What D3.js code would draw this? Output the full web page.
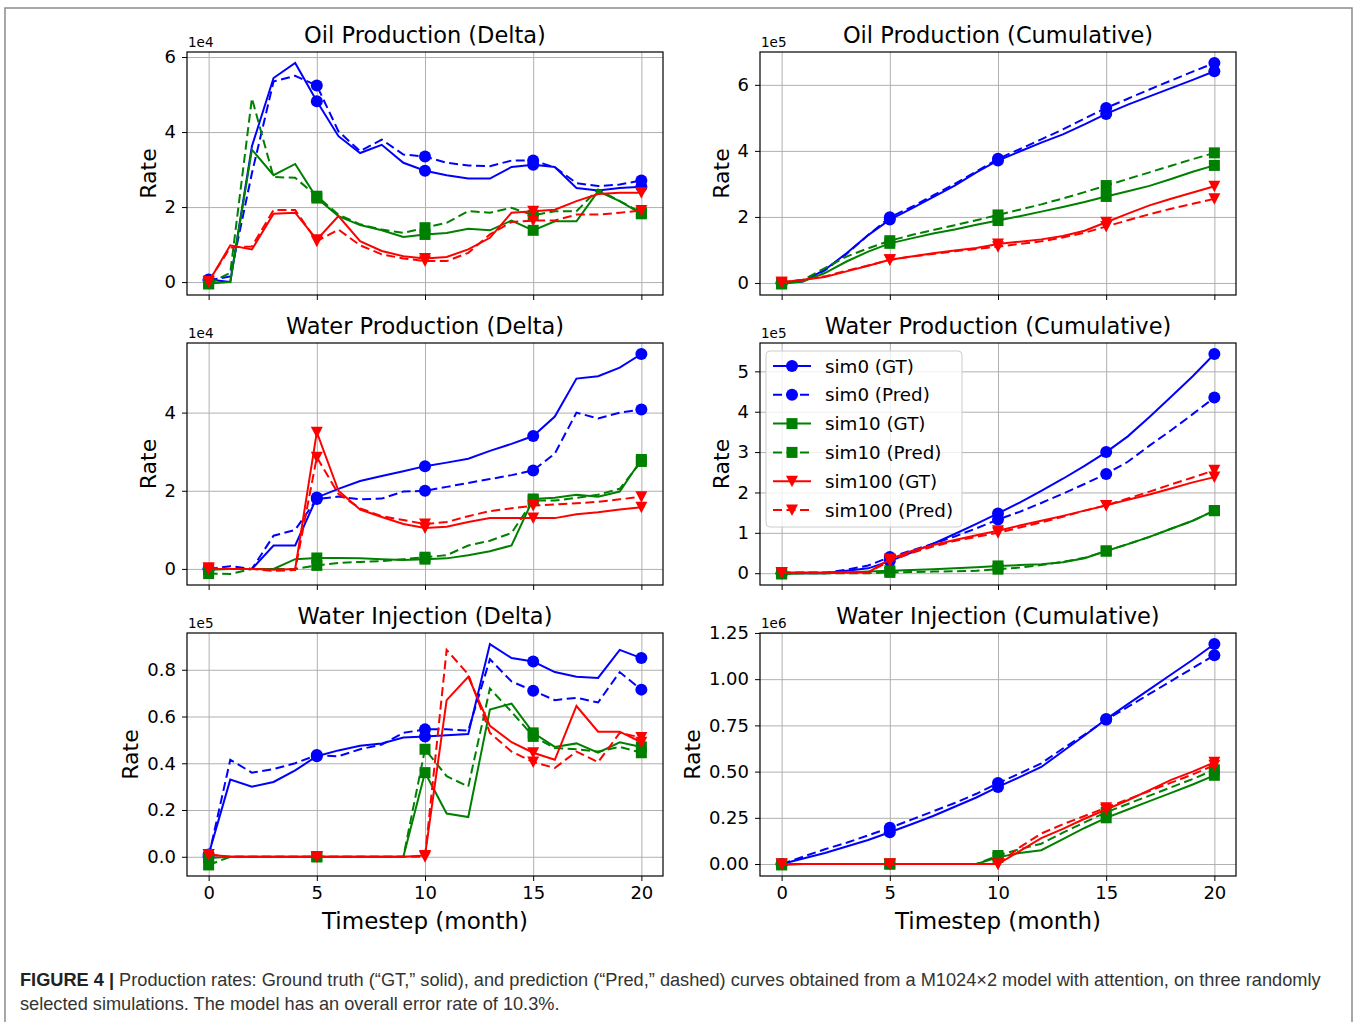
<!DOCTYPE html>
<html>
<head>
<meta charset="utf-8">
<title>Production rates</title>
<script src="https://d3js.org/d3.v7.min.js"></script>
<style>
  body { margin: 0; background: #fff; }
  .grid line { stroke: #b0b0b0; stroke-width: 1; }
  .grid .domain { stroke: none; }
  .axis text { font-family: "DejaVu Sans", sans-serif; font-size: 18px; fill: #000; }
  .axis line { stroke: #000; }
  .axis .domain { stroke: none; }
  .label { font-family: "DejaVu Sans", sans-serif; fill: #000; }
  .caption { font-family: "Liberation Sans", Arial, sans-serif; fill: #333; }
</style>
</head>
<body>
<svg id="fig" width="1359" height="1022"></svg>
<script>
// ---- data (values in units of the panel's offset exponent) ----
const timesteps = [0,1,2,3,4,5,6,7,8,9,10,11,12,13,14,15,16,17,18,19,20];
const markerSteps = [0,5,10,15,20];
const xTickValues = [0,5,10,15,20];
const seriesNames = ['sim0 (GT)','sim0 (Pred)','sim10 (GT)','sim10 (Pred)','sim100 (GT)','sim100 (Pred)'];
const panelTitles = ['Oil Production (Delta)','Oil Production (Cumulative)',
                     'Water Production (Delta)','Water Production (Cumulative)',
                     'Water Injection (Delta)','Water Injection (Cumulative)'];
const panelExponents = ['1e4','1e5','1e4','1e5','1e5','1e6'];
const yTickValues = [[0,2,4,6],[0,2,4,6],[0,2,4],[0,1,2,3,4,5],[0,0.2,0.4,0.6,0.8],[0,0.25,0.5,0.75,1,1.25]];
const yTickFormats = ['d','d','d','d','.1f','.2f'];

// rows: sim0 GT, sim0 Pred, sim10 GT, sim10 Pred, sim100 GT, sim100 Pred
const oilDelta = [
  [0.07,0.0,3.62,5.44,5.84,4.82,3.89,3.44,3.66,3.18,2.97,2.85,2.76,2.76,3.07,3.13,3.07,2.51,2.44,2.51,2.54],
  [0.05,0.15,2.9,5.35,5.5,5.24,4.02,3.49,3.8,3.4,3.35,3.18,3.11,3.09,3.24,3.24,3.06,2.64,2.56,2.6,2.71],
  [-0.04,0.0,3.53,2.85,3.15,2.24,1.76,1.52,1.38,1.2,1.27,1.31,1.42,1.38,1.64,1.38,1.62,1.62,2.42,2.16,1.82],
  [-0.05,0.25,4.9,2.8,2.78,2.29,1.8,1.54,1.4,1.31,1.45,1.58,1.89,1.85,1.98,1.78,1.89,1.89,2.47,2.16,1.85],
  [0.0,0.98,0.87,1.82,1.85,1.13,1.76,1.09,0.83,0.69,0.63,0.67,0.87,1.18,1.85,1.89,1.93,2.16,2.35,2.38,2.38],
  [0.02,0.92,0.95,1.92,1.92,1.09,1.4,0.98,0.74,0.63,0.56,0.56,0.78,1.27,1.6,1.64,1.64,1.8,1.8,1.85,1.91]
];
const oilCum = [
  [0.0,0.05,0.4,0.9,1.45,1.92,2.25,2.6,2.95,3.35,3.71,3.98,4.25,4.5,4.8,5.12,5.4,5.65,5.9,6.15,6.41],
  [0.0,0.05,0.38,0.88,1.45,1.99,2.3,2.65,3.0,3.38,3.76,4.05,4.35,4.65,4.98,5.3,5.58,5.86,6.13,6.4,6.66],
  [-0.03,0.05,0.3,0.65,0.95,1.2,1.35,1.5,1.62,1.76,1.89,2.02,2.16,2.3,2.45,2.62,2.78,2.94,3.15,3.37,3.56],
  [-0.02,0.1,0.45,0.8,1.05,1.28,1.45,1.6,1.75,1.9,2.06,2.22,2.38,2.56,2.75,2.95,3.15,3.35,3.55,3.75,3.94],
  [0.02,0.1,0.18,0.35,0.52,0.7,0.8,0.9,0.98,1.06,1.18,1.25,1.32,1.42,1.58,1.84,2.1,2.35,2.55,2.74,2.93],
  [0.02,0.1,0.2,0.37,0.53,0.7,0.8,0.88,0.96,1.03,1.1,1.18,1.26,1.38,1.52,1.71,1.9,2.08,2.25,2.4,2.55]
];
const waterDelta = [
  [0.0,0.0,0.0,0.6,0.6,1.83,2.05,2.25,2.38,2.5,2.63,2.72,2.82,3.02,3.2,3.4,3.9,4.87,4.93,5.15,5.5],
  [0.0,0.07,0.0,0.85,1.0,1.79,1.85,1.78,1.8,1.98,2.0,2.1,2.2,2.3,2.4,2.52,2.95,4.0,3.85,4.0,4.08],
  [-0.02,0.0,0.0,0.0,0.25,0.28,0.28,0.27,0.25,0.23,0.25,0.27,0.35,0.45,0.6,1.79,1.82,1.9,1.85,1.98,2.8],
  [-0.12,-0.13,0.0,0.0,0.0,0.09,0.15,0.18,0.2,0.25,0.3,0.35,0.6,0.72,0.92,1.75,1.75,1.82,1.9,2.05,2.75],
  [0.0,0.0,0.0,-0.02,0.0,3.5,2.0,1.52,1.33,1.15,1.05,1.08,1.2,1.3,1.3,1.3,1.3,1.4,1.45,1.52,1.58],
  [0.03,0.0,0.0,-0.05,-0.03,2.86,1.92,1.55,1.35,1.25,1.15,1.2,1.35,1.48,1.55,1.62,1.65,1.68,1.72,1.78,1.85]
];
const waterCum = [
  [0.0,0.0,0.0,0.06,0.12,0.3,0.51,0.73,0.97,1.22,1.48,1.75,2.04,2.34,2.66,3.0,3.39,3.87,4.37,4.88,5.43],
  [0.0,0.01,0.01,0.09,0.19,0.4,0.56,0.73,0.91,1.11,1.33,1.52,1.74,1.97,2.21,2.46,2.76,3.16,3.54,3.94,4.35],
  [-0.02,0.0,0.0,0.02,0.04,0.06,0.08,0.1,0.12,0.15,0.18,0.2,0.22,0.27,0.37,0.55,0.72,0.9,1.1,1.3,1.55],
  [0.0,0.0,0.0,0.0,0.0,0.02,0.03,0.04,0.05,0.06,0.1,0.14,0.2,0.28,0.38,0.55,0.72,0.9,1.1,1.3,1.55],
  [0.02,0.02,0.02,0.02,0.02,0.35,0.55,0.7,0.82,0.94,1.05,1.18,1.3,1.42,1.55,1.68,1.82,1.95,2.1,2.25,2.38],
  [0.02,0.02,0.02,0.02,0.02,0.3,0.5,0.66,0.8,0.9,1.0,1.13,1.26,1.4,1.55,1.68,1.85,2.02,2.2,2.37,2.55]
];
const injDelta = [
  [0.01,0.33,0.30,0.32,0.37,0.43,0.455,0.475,0.485,0.51,0.515,0.52,0.525,0.91,0.85,0.835,0.79,0.77,0.765,0.885,0.85],
  [0.0,0.415,0.36,0.375,0.40,0.435,0.43,0.46,0.48,0.53,0.545,0.545,0.54,0.845,0.75,0.71,0.67,0.68,0.66,0.79,0.715],
  [-0.005,0,0,0,0,0,0,0,0,0,0.36,0.185,0.17,0.63,0.655,0.53,0.47,0.485,0.445,0.49,0.47],
  [-0.035,0,0,0,0,0,0,0,0,0,0.46,0.345,0.30,0.72,0.62,0.515,0.465,0.46,0.45,0.47,0.445],
  [0.01,0,0,0,0,0,0,0,0,0,0.005,0.67,0.77,0.56,0.49,0.445,0.415,0.645,0.535,0.535,0.49],
  [0.01,0,0,0,0,0,0,0,0,0,0.0,0.885,0.78,0.53,0.45,0.405,0.38,0.45,0.405,0.53,0.51]
];
const injCum = [
  [0,0.03,0.06,0.095,0.13,0.172,0.215,0.26,0.31,0.36,0.417,0.47,0.525,0.61,0.695,0.784,0.865,0.945,1.025,1.105,1.19],
  [0,0.04,0.08,0.115,0.155,0.196,0.24,0.285,0.33,0.38,0.438,0.49,0.545,0.625,0.7,0.78,0.85,0.92,0.99,1.06,1.13],
  [-0.005,0,0,0,0,0,0,0,0,0,0.036,0.06,0.075,0.135,0.195,0.25,0.295,0.34,0.385,0.43,0.48],
  [0,0,0,0,0,0,0,0,0,0,0.046,0.08,0.11,0.17,0.225,0.28,0.325,0.37,0.415,0.46,0.51],
  [0,0,0,0,0,0,0,0,0,0,0.0,0.07,0.14,0.19,0.245,0.295,0.345,0.4,0.455,0.5,0.55],
  [0,0,0,0,0,0,0,0,0,0,0.0,0.09,0.165,0.215,0.26,0.305,0.35,0.395,0.44,0.485,0.535]
];
const panels = [oilDelta, oilCum, waterDelta, waterCum, injDelta, injCum];

// ---- styles ----
const colors = ['#0000ff','#0000ff','#008000','#008000','#ff0000','#ff0000'];
const markers = ['circle','circle','square','square','tri','tri'];
const dashed = [false,true,false,true,false,true];

const svg = d3.select('#fig');

// figure frame
svg.append('rect')
  .attr('x', 5).attr('y', 8).attr('width', 1347).attr('height', 1030)
  .attr('fill', 'none').attr('stroke', '#8a8a8a').attr('stroke-width', 1.5);

const cols = [{x0: 187, x1: 663}, {x0: 760, x1: 1236}];
const rows = [{y0: 52, y1: 295}, {y0: 343, y1: 585}, {y0: 633, y1: 876}];

function drawMarker(g, kind, cx, cy, color) {
  if (kind === 'circle') {
    g.append('circle').attr('cx', cx).attr('cy', cy).attr('r', 6).attr('fill', color);
  } else if (kind === 'square') {
    g.append('rect').attr('x', cx - 5.5).attr('y', cy - 5.5).attr('width', 11).attr('height', 11).attr('fill', color);
  } else {
    g.append('path').attr('d', `M${cx-6},${cy-5.5}L${cx+6},${cy-5.5}L${cx},${cy+6}Z`).attr('fill', color);
  }
}

panels.forEach((values, p) => {
  const col = cols[p % 2], row = rows[Math.floor(p / 2)];
  const w = col.x1 - col.x0, h = row.y1 - row.y0;
  const bottomRow = p >= 4;
  const g = svg.append('g').attr('transform', `translate(${col.x0},${row.y0})`);

  const x = d3.scaleLinear().domain([-1, 21]).range([0, w]);
  const [lo, hi] = d3.extent(values.flat());
  const pad = (hi - lo) * 0.05;
  const y = d3.scaleLinear().domain([lo - pad, hi + pad]).range([h, 0]);

  // gridlines
  g.append('g').attr('class', 'grid')
    .call(d3.axisBottom(x).tickValues(xTickValues).tickSize(h).tickFormat(''));
  g.append('g').attr('class', 'grid')
    .call(d3.axisLeft(y).tickValues(yTickValues[p]).tickSize(-w).tickFormat(''));

  // series
  const line = d3.line().x((d, i) => x(timesteps[i])).y(d => y(d));
  values.forEach((s, k) => {
    g.append('path').datum(s)
      .attr('d', line)
      .attr('fill', 'none')
      .attr('stroke', colors[k])
      .attr('stroke-width', 2)
      .attr('stroke-dasharray', dashed[k] ? '9,4.5' : null);
    markerSteps.forEach(t => drawMarker(g, markers[k], x(t), y(s[t]), colors[k]));
  });

  // spines
  g.append('rect').attr('width', w).attr('height', h)
    .attr('fill', 'none').attr('stroke', '#000').attr('stroke-width', 1.2);

  // axes
  const xAxis = d3.axisBottom(x).tickValues(xTickValues).tickSize(5).tickPadding(5);
  if (!bottomRow) xAxis.tickFormat('');
  g.append('g').attr('class', 'axis').attr('transform', `translate(0,${h})`).call(xAxis);

  const yAxisG = g.append('g').attr('class', 'axis')
    .call(d3.axisLeft(y).tickValues(yTickValues[p]).tickSize(5).tickPadding(6)
      .tickFormat(d3.format(yTickFormats[p])));
  const box = yAxisG.node().getBBox();

  // offset text
  g.append('text').attr('class', 'label').attr('x', 1).attr('y', -5)
    .style('font-size', '13.5px').text(panelExponents[p]);

  // title
  g.append('text').attr('class', 'label').attr('x', w / 2).attr('y', -9)
    .attr('text-anchor', 'middle').style('font-size', '22.5px').text(panelTitles[p]);

  // y label
  g.append('text').attr('class', 'label')
    .attr('transform', `translate(${box.x - 9},${h / 2}) rotate(-90)`)
    .attr('text-anchor', 'middle').style('font-size', '22px').text('Rate');

  if (bottomRow) {
    g.append('text').attr('class', 'label').attr('x', w / 2).attr('y', h + 53)
      .attr('text-anchor', 'middle').style('font-size', '23px').text('Timestep (month)');
  }

  // legend on the water production (cumulative) panel
  if (p === 3) {
    const lg = g.append('g').attr('transform', 'translate(6,8)');
    lg.append('rect').attr('width', 196).attr('height', 176).attr('rx', 4)
      .attr('fill', '#fff').attr('fill-opacity', 0.8)
      .attr('stroke', '#cccccc').attr('stroke-width', 1);
    seriesNames.forEach((name, k) => {
      const cy = 15 + k * 28.8;
      lg.append('line').attr('x1', 7).attr('x2', 45).attr('y1', cy).attr('y2', cy)
        .attr('stroke', colors[k]).attr('stroke-width', 2)
        .attr('stroke-dasharray', dashed[k] ? '9,4.5' : null);
      drawMarker(lg, markers[k], 26, cy, colors[k]);
      lg.append('text').attr('class', 'label').attr('x', 59).attr('y', cy + 6.5)
        .style('font-size', '18.3px').text(name);
    });
  }
});

// caption
const cap1 = svg.append('text').attr('class', 'caption').attr('x', 20).attr('y', 986).style('font-size', '17px');
cap1.append('tspan').attr('font-weight', 'bold').attr('fill', '#222').text('FIGURE 4 |');
cap1.append('tspan').text(' Production rates: Ground truth (\u201cGT,\u201d solid), and prediction (\u201cPred,\u201d dashed) curves obtained from a M1024\u00d72 model with attention, on three randomly');
const cap2 = svg.append('text').attr('class', 'caption').attr('x', 20).attr('y', 1010).style('font-size', '17px')
  .text('selected simulations. The model has an overall error rate of 10.3%.');
const len = cap1.node().getComputedTextLength();
const fs = 17 * 1302 / len;
cap1.style('font-size', fs + 'px');
cap2.style('font-size', fs + 'px');
</script>
</body>
</html>
